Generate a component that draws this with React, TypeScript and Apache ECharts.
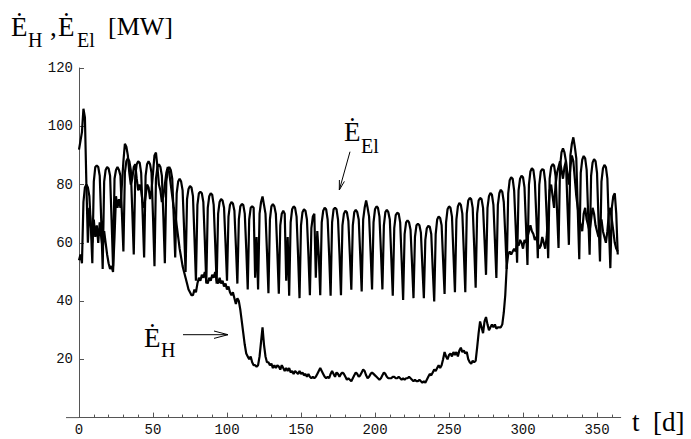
import React, { useEffect, useRef } from "react";
import * as echarts from "echarts";

// Heat demand E_H [MW], daily values, day 0..364
const heatDemand: number[] = [
  92, 95, 98, 106, 103, 80, 60, 72, 66, 60,
  68, 62, 66, 60, 67, 62, 58, 64, 60, 56,
  53, 51, 52, 50, 62, 76, 72, 75, 72, 80,
  88, 94, 93, 90, 84, 80, 82, 86, 87, 82,
  78, 80, 78, 74, 72, 76, 80, 79, 75, 78,
  84, 90, 91, 86, 80, 78, 74, 76, 80, 84,
  86, 84, 80, 76, 72, 70, 66, 62, 58, 55,
  52, 50, 48, 46, 44, 43, 42, 42, 44, 43,
  46, 48, 47, 49, 48, 50, 47, 46, 48, 47,
  49, 48, 50, 47, 46, 48, 46, 47, 45, 46,
  44, 45, 43, 42, 43, 41, 39, 41, 40, 37,
  33, 29, 25, 22, 21, 20, 21, 19, 18, 18,
  17.5, 18, 21, 26, 31, 25, 21, 19, 19, 18,
  18.5, 17, 18, 17, 18, 17.5, 16.5, 18, 17, 16,
  17, 16, 17, 15.5, 16, 15, 16, 15.5, 15, 16,
  15, 15.5, 14.5, 15, 14, 15, 14, 13.5, 14, 13.5,
  14, 15, 16, 17, 16, 15, 14, 13.5, 14, 13.5,
  15, 16, 15, 14, 15.5, 15, 14, 15, 15.5, 15,
  14, 13, 13.5, 13, 12.5, 13.5, 14.5, 15.5, 15, 14,
  14.5, 15.5, 16.5, 16, 14.5, 13.5, 14, 15, 15.5, 15,
  14.5, 14, 13.5, 13, 13.5, 14.5, 15.5, 15, 14, 13.5,
  13.5, 13.5, 14, 14, 13.5, 13.5, 14, 13.5, 13, 13.5,
  13, 13.5, 13.5, 14, 13.5, 13, 12.5, 13, 12.5, 12.5,
  13, 12.5, 12, 12.5, 12, 13, 14, 15, 14.5, 15.5,
  16.5, 16, 17, 18, 17, 18, 20, 22.5, 21, 20,
  21.5, 22, 21, 22.5, 21.5, 22.5, 21, 23, 24, 22.5,
  23, 22, 22.5, 20, 19, 18.5, 19.5, 19, 19.5, 24,
  29, 33, 31, 29, 33, 34.5, 32, 30, 31, 32,
  31, 32, 30.5, 31, 31, 31, 32, 36, 42, 52,
  56, 57, 56, 57, 58, 57, 60, 59, 61, 60,
  58, 61, 60, 62, 64, 66, 64, 63, 61, 62,
  60, 58, 59, 62, 60, 58, 62, 70, 78, 80,
  76, 72, 80, 84, 86, 88, 85, 82, 86, 88,
  84, 80, 86, 90, 88, 82, 76, 72, 68, 66,
  64, 70, 72, 68, 66, 64, 68, 72, 70, 66,
  64, 62, 66, 68, 64, 62, 60, 64, 70, 72,
  68, 64, 60, 58, 57,
];

// Electricity demand E_El [MW], daily values, day 0..364
const elecDemand: number[] = [
  54, 56, 53,
  74, 79, 80, 79, 76, 66, 53,
  81, 86, 86.5, 86, 83, 68, 51,
  81, 85, 86, 85.5, 83, 68, 52,
  82, 85, 86, 85, 83, 70, 57,
  84, 88, 89, 88, 85, 71, 56,
  83, 87, 88, 87.5, 84, 70, 55,
  83, 87, 88, 87, 84, 69, 52,
  82, 86, 87, 86, 83, 69, 53,
  81, 85, 86, 85, 82, 69, 55,
  77, 81, 82, 81, 78, 65, 50,
  75, 78.5, 79.5, 79, 76, 62, 47,
  73, 77, 77.5, 77, 74, 61, 46,
  72, 76, 77, 76.5, 73, 60, 46,
  70, 74, 75, 74.5, 72, 60, 47,
  69, 73, 74, 73.5, 71, 59, 46,
  68, 72.5, 73.3, 73, 70, 58, 44,
  68, 72, 72.5, 72, 48, 62, 44,
  70, 74, 75.9, 73, 70, 57, 42.7,
  68, 72.5, 73.3, 72.5, 70, 57, 42.5,
  66, 70, 71, 70, 47, 62, 41.8,
  67, 71.5, 72.5, 72, 69, 56, 41,
  66, 70.5, 71.5, 71, 68, 56, 42,
  65, 69, 70, 48, 64, 56, 42,
  67, 71, 72, 71.5, 68, 56, 41.8,
  67, 71.5, 72, 71.5, 68, 56, 42,
  66, 70, 71, 70.5, 67.5, 56, 43.9,
  66, 70.5, 71.3, 70.5, 68, 56, 43.3,
  68, 72, 74.5, 72, 69, 57, 44,
  67, 71.5, 72.5, 72, 69, 57, 44,
  66, 70.5, 71.3, 70.5, 68, 55, 41.8,
  65, 69.5, 70.3, 70, 67, 54, 40.4,
  63, 67, 67.7, 67, 64.5, 53, 41,
  62, 66, 66.5, 66, 63.5, 52, 41,
  61, 65, 65.8, 65.5, 63, 51, 39.9,
  63, 68, 69, 68.5, 66, 54, 42.4,
  67, 71.5, 72.5, 72, 69, 56, 43,
  68, 72.5, 73.7, 73, 70, 57, 43,
  70, 74.5, 75.4, 75, 72, 59, 44.6,
  70, 74.5, 75.4, 75, 72, 61, 49,
  72, 76, 77.1, 76.5, 73, 61, 47.9,
  73, 77, 78.2, 77.5, 74, 63, 51,
  77, 81.5, 82.5, 82, 78, 66, 53.2,
  78, 82, 83, 82.5, 79, 66, 52.4,
  80, 84.5, 85.6, 85, 81, 69, 54.7,
  80, 84.5, 85.3, 85, 81, 69, 54.7,
  82, 86, 87, 86.5, 83, 71, 58.2,
  86, 91, 92.4, 91, 88, 73, 59.3,
  90, 94, 96.2, 93, 89, 71, 54.4,
  84, 88.5, 89.8, 89, 85, 70, 55.9,
  83, 87.5, 88.7, 88, 84, 68, 53.6,
  81, 85.5, 86.7, 86, 82, 66, 51.3,
  72, 76, 77, 70, 56,
];

const xMajorTicks = [0, 50, 100, 150, 200, 250, 300, 350];
const xMinorTicks = [10, 20, 30, 40, 60, 70, 80, 90, 110, 120, 130, 140, 160, 170, 180, 190,
  210, 220, 230, 240, 260, 270, 280, 290, 310, 320, 330, 340, 360];
const yTickStep = 20;

const MONO = "'Liberation Mono', 'DejaVu Sans Mono', monospace";
const SERIF = "'Liberation Serif', 'DejaVu Serif', serif";
const AXIS_COLOR = "#555";

function serifText(text: string, x: number, y: number, size: number) {
  return {
    type: "text",
    x,
    y,
    silent: true,
    style: {
      text,
      fontFamily: SERIF,
      fontSize: size,
      fill: "#000",
      verticalAlign: "middle",
      align: "left",
    },
  };
}

export default function App() {
  const ref = useRef<HTMLDivElement>(null);

  useEffect(() => {
    if (!ref.current) return;
    const chart = echarts.init(ref.current, undefined, { renderer: "svg" });

    const option: any = {
      animation: false,
      backgroundColor: "#fff",
      grid: { left: 79, right: 70.3, top: 68, bottom: 21.4, containLabel: false },
      xAxis: [
        {
          type: "value",
          min: 0,
          max: 366,
          interval: 50,
          position: "bottom",
          axisLine: { show: true, onZero: false, lineStyle: { color: AXIS_COLOR, width: 1 } },
          axisTick: { show: true, inside: true, length: 5, customValues: xMajorTicks, lineStyle: { color: AXIS_COLOR } },
          axisLabel: {
            customValues: xMajorTicks,
            fontFamily: MONO,
            fontSize: 14,
            color: "#111",
            margin: 5,
          },
          splitLine: { show: false },
        },
        {
          type: "value",
          min: 0,
          max: 366,
          position: "bottom",
          axisLine: { show: false, onZero: false },
          axisTick: { show: true, inside: true, length: 3, customValues: xMinorTicks, lineStyle: { color: AXIS_COLOR } },
          axisLabel: { show: false },
          splitLine: { show: false },
        },
      ],
      yAxis: {
        type: "value",
        min: 0,
        max: 120,
        interval: yTickStep,
        axisLine: { show: true, onZero: false, lineStyle: { color: AXIS_COLOR, width: 1 } },
        axisTick: { show: true, inside: true, length: 5, lineStyle: { color: AXIS_COLOR } },
        axisLabel: {
          showMinLabel: false,
          fontFamily: MONO,
          fontSize: 14,
          color: "#111",
          margin: 6,
        },
        splitLine: { show: false },
      },
      series: [
        {
          type: "line",
          name: "E_El",
          xAxisIndex: 0,
          data: elecDemand.map((v, i) => [i, v]),
          showSymbol: false,
          symbol: "none",
          lineStyle: { color: "#000", width: 2.2 },
          silent: true,
        },
        {
          type: "line",
          name: "E_H",
          xAxisIndex: 0,
          data: heatDemand.map((v, i) => [i, v]),
          showSymbol: false,
          symbol: "none",
          lineStyle: { color: "#000", width: 2.2 },
          silent: true,
        },
      ],
      graphic: [
        // x axis extension left of the y axis
        { type: "line", silent: true, shape: { x1: 66, y1: 417.6, x2: 79, y2: 417.6 }, style: { stroke: AXIS_COLOR, lineWidth: 1 } },
        // title
        serifText("Ė", 11, 26.5, 27),
        serifText("H", 28, 40, 20),
        serifText(",", 50, 26.5, 27),
        serifText("Ė", 58, 26.5, 27),
        serifText("El", 77, 40, 20),
        serifText("[MW]", 108, 26.5, 26),
        // x axis name
        serifText("t  [d]", 632, 422, 27),
        // E_El annotation
        serifText("Ė", 344, 132, 27),
        serifText("El", 361, 145.5, 20),
        { type: "line", silent: true, shape: { x1: 350, y1: 151.7, x2: 339.3, y2: 190 }, style: { stroke: "#000", lineWidth: 1 } },
        { type: "polyline", silent: true, shape: { points: [[344.4, 181.4], [339.3, 190], [339.4, 180]] }, style: { stroke: "#000", lineWidth: 1, fill: "none" } },
        // E_H annotation
        serifText("Ė", 144, 337.5, 27),
        serifText("H", 161, 350, 20),
        { type: "line", silent: true, shape: { x1: 183, y1: 334.7, x2: 228, y2: 334.7 }, style: { stroke: "#000", lineWidth: 1 } },
        { type: "polyline", silent: true, shape: { points: [[214, 331], [228, 334.7], [214, 338.4]] }, style: { stroke: "#000", lineWidth: 1, fill: "none" } },
      ],
    };

    chart.setOption(option);
    return () => chart.dispose();
  }, []);

  return (
    <div
      ref={ref}
      style={{ position: "fixed", left: 0, top: 0, width: 691, height: 439, background: "#fff" }}
    />
  );
}
